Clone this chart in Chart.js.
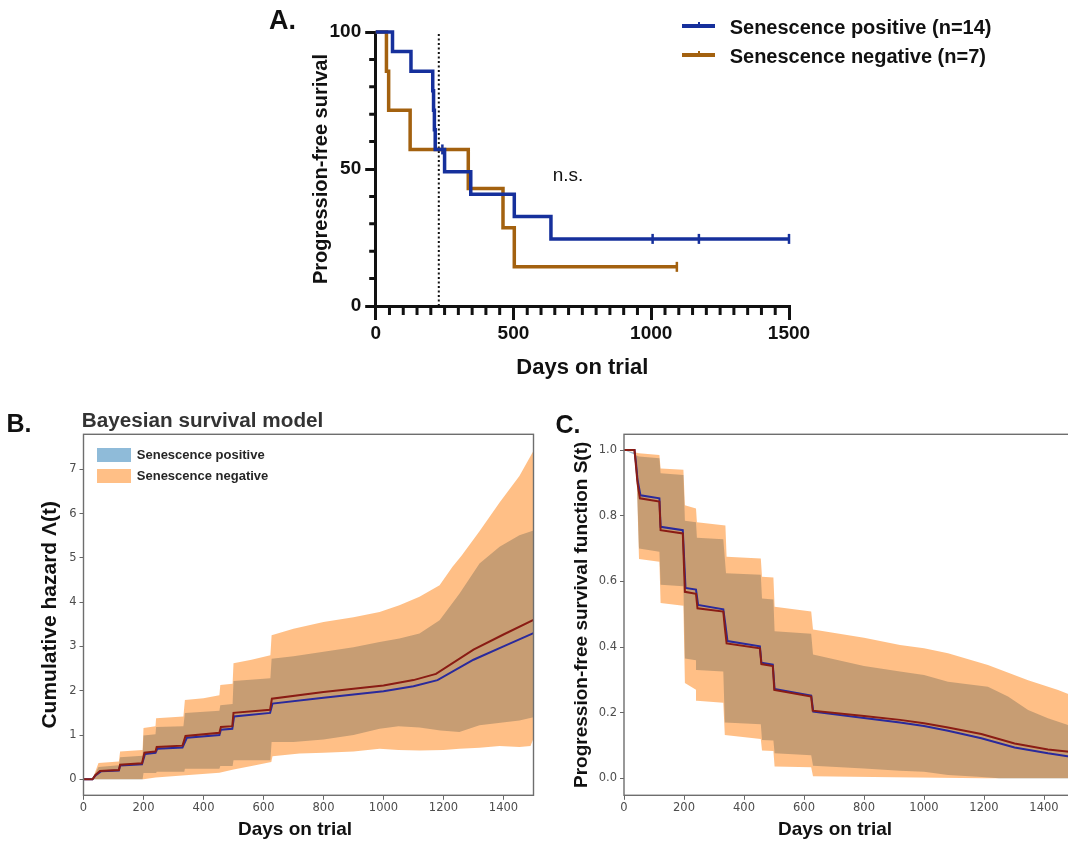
<!DOCTYPE html>
<html>
<head>
<meta charset="utf-8">
<script src="https://cdn.jsdelivr.net/npm/chart.js@4.4.1/dist/chart.umd.min.js"></script>
<style>
html, body { margin:0; padding:0; width:1068px; height:841px; overflow:hidden; background:#fff; }
canvas { position:absolute; }
.txt { position:absolute; font-family:"Liberation Sans", Arial, sans-serif; font-weight:bold; line-height:1; white-space:nowrap; color:#111; }
.key { position:absolute; }
</style>
</head>
<body>
<canvas id="chartA" width="600" height="400" style="left:250px;top:0px;width:600px;height:400px"></canvas>
<canvas id="chartB" width="545" height="441" style="left:0px;top:400px;width:545px;height:441px"></canvas>
<canvas id="chartC" width="520" height="441" style="left:560px;top:400px;width:520px;height:441px"></canvas>

<div class="txt" style="left:269px;top:7px;font-size:27px">A.</div>
<div class="txt" style="left:6.5px;top:410.5px;font-size:25px">B.</div>
<div class="txt" style="left:555.5px;top:411.8px;font-size:25px">C.</div>

<!-- legend A -->
<div class="key" style="left:681.7px;top:24.2px;width:33.3px;height:3.6px;background:#16309c"></div>
<div class="key" style="left:698px;top:21.5px;width:2px;height:4px;background:#16309c"></div>
<div class="txt" style="left:729.7px;top:16.7px;font-size:20px">Senescence positive (n=14)</div>
<div class="key" style="left:681.7px;top:53.2px;width:33.3px;height:3.6px;background:#a3610f"></div>
<div class="key" style="left:698px;top:50.5px;width:2px;height:4px;background:#a3610f"></div>
<div class="txt" style="left:729.7px;top:46.2px;font-size:20px">Senescence negative (n=7)</div>

<!-- panel B title and legend -->
<div class="txt" style="left:81.8px;top:410.2px;font-size:20.7px;color:#333">Bayesian survival model</div>
<div class="key" style="left:97.3px;top:447.7px;width:33.7px;height:14px;background:rgba(31,119,180,0.5)"></div>
<div class="txt" style="left:136.8px;top:447.5px;font-size:13px;color:#262626">Senescence positive</div>
<div class="key" style="left:97.3px;top:469.3px;width:33.7px;height:14px;background:rgba(255,127,14,0.5)"></div>
<div class="txt" style="left:136.8px;top:469.1px;font-size:13px;color:#262626">Senescence negative</div>

<!-- x titles of B and C -->
<div class="txt" style="left:295px;top:819px;font-size:19px;transform:translateX(-50%)">Days on trial</div>
<div class="txt" style="left:835px;top:819px;font-size:19px;transform:translateX(-50%)">Days on trial</div>

<script>
// ---------- Panel A: Kaplan-Meier, % progression-free ----------
const kmPositive = [[0,100],[61,92.86],[128,85.71],[207,78.57],[210,71.43],[213,64.29],[216,57.14],
  [250,48.98],[345,40.82],[503,32.65],[636,24.49],[1500,24.49]];
const kmNegative = [[0,100],[39,85.71],[47,71.43],[125,57.14],[336,42.86],[462,28.57],[503,14.29],[1093,14.29]];
const censorPositive = [[242,57.14],[1005,24.49],[1173,24.49],[1500,24.49]];
const censorNegative = [[1093,14.29]];
const landmarkDay = 229;
const nsLabel = {day: 698, value: 47.5, text: 'n.s.'};

// ---------- Panel B: cumulative hazard (median + 95% band) ----------
const hazardPosMedian = [[0,0],[30,0],[40,0.09],[58,0.18],[118,0.2],[122,0.31],[195,0.34],[205,0.57],[240,0.6],
  [246,0.69],[330,0.72],[345,0.94],[453,1.0],[458,1.12],[496,1.14],[502,1.42],[622,1.5],[630,1.71],[800,1.84],
  [1000,1.99],[1100,2.1],[1180,2.24],[1300,2.7],[1400,3.0],[1500,3.3]];
const hazardNegMedian = [[0,0],[30,0],[40,0.1],[55,0.19],[118,0.21],[122,0.33],[195,0.36],[203,0.6],[240,0.63],
  [244,0.73],[330,0.76],[340,0.98],[453,1.05],[458,1.18],[496,1.2],[500,1.5],[622,1.57],[628,1.82],[800,1.97],
  [1000,2.12],[1100,2.24],[1175,2.38],[1300,2.93],[1400,3.27],[1500,3.6]];
const hazardNegUpper = [[0,0],[30,0],[50,0.37],[118,0.4],[122,0.63],[197,0.66],[200,1.16],[240,1.2],[242,1.38],
  [333,1.42],[338,1.79],[400,1.83],[453,1.9],[456,2.13],[497,2.16],[500,2.62],[560,2.7],[623,2.8],[627,3.25],
  [700,3.4],[800,3.55],[900,3.66],[987,3.78],[1053,3.93],[1120,4.12],[1187,4.38],[1230,4.8],[1260,5.05],
  [1320,5.6],[1387,6.25],[1453,6.85],[1500,7.42]];
const hazardNegLower = [[0,0],[200,0],[240,0.04],[340,0.09],[453,0.15],[500,0.22],[560,0.3],[626,0.39],[630,0.52],
  [720,0.58],[800,0.6],[900,0.63],[987,0.69],[1050,0.66],[1120,0.65],[1200,0.66],[1253,0.69],[1320,0.71],
  [1387,0.75],[1453,0.73],[1490,0.75],[1500,0.92]];
const hazardPosUpper = [[0,0],[30,0],[50,0.28],[118,0.32],[122,0.5],[197,0.53],[200,0.99],[240,1.02],[242,1.18],
  [333,1.2],[338,1.5],[453,1.55],[456,1.67],[497,1.7],[500,2.22],[623,2.28],[627,2.72],[700,2.78],[800,2.88],
  [900,2.98],[987,3.1],[1053,3.18],[1120,3.29],[1187,3.59],[1253,4.19],[1320,4.87],[1387,5.25],[1453,5.51],[1500,5.62]];
const hazardPosLower = [[0,0],[197,0],[200,0.14],[242,0.14],[244,0.17],[336,0.17],[338,0.24],[453,0.24],[456,0.3],
  [497,0.3],[500,0.43],[623,0.43],[627,0.84],[700,0.84],[800,0.9],[900,1.0],[987,1.14],[1050,1.2],[1120,1.17],
  [1190,1.1],[1253,1.07],[1320,1.22],[1453,1.33],[1500,1.4]];

// ---------- Panel C: survival function S(t) (median + 95% band) ----------
const survPosMedian = [[0,1],[35,1],[40,0.96],[45,0.91],[55,0.862],[118,0.853],[122,0.766],[196,0.756],[205,0.58],
  [240,0.575],[247,0.528],[331,0.515],[338,0.468],[345,0.418],[453,0.402],[458,0.352],[496,0.346],[502,0.272],
  [624,0.252],[631,0.203],[800,0.184],[920,0.17],[1000,0.159],[1080,0.145],[1191,0.122],[1302,0.094],[1413,0.076],[1500,0.064]];
const survNegMedian = [[0,1],[35,1],[40,0.95],[45,0.9],[53,0.853],[118,0.843],[122,0.756],[196,0.746],[203,0.568],
  [240,0.562],[245,0.518],[331,0.508],[336,0.46],[342,0.411],[453,0.396],[458,0.348],[496,0.342],[501,0.269],
  [624,0.249],[629,0.206],[800,0.19],[920,0.178],[1000,0.168],[1080,0.155],[1191,0.135],[1302,0.106],[1413,0.088],[1500,0.079]];
const survNegUpper = [[0,1],[50,0.99],[118,0.985],[122,0.944],[198,0.94],[203,0.832],[240,0.822],[243,0.78],[338,0.77],
  [342,0.675],[456,0.67],[460,0.614],[498,0.612],[502,0.523],[624,0.508],[630,0.453],[800,0.428],[920,0.406],
  [1000,0.396],[1080,0.381],[1213,0.345],[1347,0.299],[1447,0.269],[1500,0.25]];
const survNegLower = [[0,1],[40,0.99],[50,0.668],[118,0.66],[122,0.534],[198,0.526],[203,0.29],[240,0.27],[243,0.236],
  [331,0.23],[336,0.132],[456,0.12],[460,0.085],[498,0.083],[502,0.036],[624,0.034],[630,0.006],[900,0.003],[1200,0],[1500,0]];
const survPosUpper = [[0,1],[50,0.98],[118,0.975],[122,0.929],[198,0.924],[203,0.785],[240,0.78],[243,0.733],[331,0.728],
  [340,0.625],[456,0.62],[460,0.548],[498,0.545],[502,0.448],[624,0.44],[630,0.377],[800,0.342],[920,0.325],
  [1000,0.315],[1080,0.294],[1213,0.279],[1280,0.249],[1347,0.208],[1413,0.183],[1480,0.162],[1500,0.157]];
const survPosLower = [[0,1],[40,0.99],[50,0.7],[118,0.69],[122,0.59],[198,0.585],[203,0.365],[240,0.36],[243,0.33],
  [331,0.325],[336,0.17],[456,0.165],[460,0.117],[498,0.115],[502,0.076],[624,0.07],[630,0.038],[800,0.03],
  [920,0.023],[1000,0.02],[1080,0.01],[1180,0.005],[1250,0],[1500,0]];

const SANS = '"Liberation Sans", Arial, sans-serif';
const MPL = '"DejaVu Sans", sans-serif';
const BLUE_A = '#16309c', ORANGE_A = '#a3610f';
const pts = arr => arr.map(([x, y]) => ({x, y}));
const plainNum = v => String(v);

// minor ticks of panel A (every 50 days, every 10 %)
const minorDays = [], minorPct = [];
for (let d = 50; d < 1500; d += 50) if (d % 500) minorDays.push(d);
for (let p = 10; p < 100; p += 10) if (p % 50) minorPct.push(p);

const minorTicks = {
  id: 'minorTicks',
  afterDraw(chart) {
    const {ctx} = chart, x = chart.scales.x, y = chart.scales.y;
    ctx.save();
    ctx.strokeStyle = '#111';
    ctx.lineWidth = 3;
    ctx.beginPath();
    minorDays.forEach(v => { const p = x.getPixelForValue(v); ctx.moveTo(p, x.top); ctx.lineTo(p, x.top + 9); });
    minorPct.forEach(v => { const p = y.getPixelForValue(v); ctx.moveTo(y.right, p); ctx.lineTo(y.right - 6.5, p); });
    ctx.stroke();
    ctx.restore();
  }
};

const nsText = {
  id: 'nsText',
  afterDatasetsDraw(chart) {
    const {ctx} = chart, x = chart.scales.x, y = chart.scales.y;
    ctx.save();
    ctx.font = '19px ' + SANS;
    ctx.fillStyle = '#111';
    ctx.textAlign = 'center';
    ctx.textBaseline = 'middle';
    ctx.fillText(nsLabel.text, x.getPixelForValue(nsLabel.day), y.getPixelForValue(nsLabel.value));
    ctx.restore();
  }
};

const frameBox = {
  id: 'frameBox',
  afterDatasetsDraw(chart) {
    const {ctx, chartArea: a} = chart;
    ctx.save();
    ctx.strokeStyle = '#6e6e6e';
    ctx.lineWidth = 1.4;
    ctx.strokeRect(a.left, a.top, a.right - a.left, a.bottom - a.top);
    ctx.restore();
  }
};

// ---------- chart A ----------
new Chart(document.getElementById('chartA'), {
  type: 'line',
  data: {
    datasets: [
      {label: 'Senescence positive (n=14)', data: pts(kmPositive), stepped: true, borderColor: BLUE_A,
        borderWidth: 3.5, pointRadius: 0, fill: false, clip: false},
      {label: 'Senescence negative (n=7)', data: pts(kmNegative), stepped: true, borderColor: ORANGE_A,
        borderWidth: 3.5, pointRadius: 0, fill: false, clip: false},
      {data: pts(censorPositive), showLine: false, pointStyle: 'line', rotation: 90, pointRadius: 5,
        pointBorderWidth: 2.5, pointBorderColor: BLUE_A, borderColor: BLUE_A, clip: false},
      {data: pts(censorNegative), showLine: false, pointStyle: 'line', rotation: 90, pointRadius: 5,
        pointBorderWidth: 2.5, pointBorderColor: ORANGE_A, borderColor: ORANGE_A, clip: false},
      {data: [{x: landmarkDay, y: 0}, {x: landmarkDay, y: 100}], borderColor: '#111', borderWidth: 2,
        borderDash: [2, 2.5], pointRadius: 0, fill: false}
    ]
  },
  options: {
    responsive: false, animation: false, events: [], devicePixelRatio: 1,
    layout: {padding: {left: 0, top: 32, right: 61, bottom: 0}, autoPadding: false},
    plugins: {legend: {display: false}, tooltip: {enabled: false}},
    scales: {
      x: {
        type: 'linear', min: 0, max: 1500,
        afterFit: s => { s.height = 94; },
        ticks: {stepSize: 500, color: '#111', font: {family: SANS, size: 19, weight: 'bold'}, padding: 2,
          maxRotation: 0, autoSkip: false, callback: plainNum},
        grid: {display: true, drawOnChartArea: false, drawTicks: true, tickLength: 14, color: '#111', lineWidth: 3},
        border: {display: true, color: '#111', width: 3},
        title: {display: true, text: 'Days on trial', color: '#111', font: {family: SANS, size: 22, weight: 'bold'},
          padding: {top: 0, bottom: 18.5}}
      },
      y: {
        type: 'linear', min: 0, max: 100,
        afterFit: s => { s.width = 125.7; },
        ticks: {stepSize: 50, color: '#111', font: {family: SANS, size: 19, weight: 'bold'}, padding: 4,
          callback: plainNum},
        grid: {display: true, drawOnChartArea: false, drawTicks: true, tickLength: 10.5, color: '#111', lineWidth: 3},
        border: {display: true, color: '#111', width: 3},
        title: {display: true, text: 'Progression-free surival', color: '#111',
          font: {family: SANS, size: 20, weight: 'bold'}, padding: {top: 59.6, bottom: 0}}
      }
    }
  },
  plugins: [minorTicks, nsText]
});

// ---------- charts B and C ----------
function bandSets(upper, lower, color, order) {
  return [
    {data: pts(upper), fill: '+1', backgroundColor: color, borderColor: 'rgba(0,0,0,0)', borderWidth: 0,
      pointRadius: 0, order: order},
    {data: pts(lower), fill: false, borderColor: 'rgba(0,0,0,0)', borderWidth: 0, pointRadius: 0, order: order}
  ];
}

function bayesChart(id, s) {
  new Chart(document.getElementById(id), {
    type: 'line',
    data: {
      datasets: [
        {label: 'Senescence negative', data: pts(s.negMedian), borderColor: '#8a1c14', borderWidth: 2,
          pointRadius: 0, fill: false, order: 0},
        {label: 'Senescence positive', data: pts(s.posMedian), borderColor: '#2a2a9c', borderWidth: 2,
          pointRadius: 0, fill: false, order: 1},
        ...bandSets(s.negUpper, s.negLower, 'rgba(255,127,14,0.5)', 2),
        ...bandSets(s.posUpper, s.posLower, 'rgba(31,119,180,0.5)', 3)
      ]
    },
    options: {
      responsive: false, animation: false, events: [], devicePixelRatio: 1,
      layout: {padding: {left: 0, top: 34.3, right: s.padRight, bottom: 0}, autoPadding: false},
      plugins: {legend: {display: false}, tooltip: {enabled: false}},
      scales: {
        x: {
          type: 'linear', min: 0, max: 1500,
          afterFit: sc => { sc.height = 45.7; },
          ticks: {stepSize: 200, includeBounds: false, color: '#4d4d4d', font: {family: MPL, size: 11.5},
            padding: 1, maxRotation: 0, autoSkip: false, callback: plainNum},
          grid: {display: true, drawOnChartArea: false, drawTicks: true, tickLength: 4.5, color: '#666', lineWidth: 1},
          border: {display: false}
        },
        y: {
          type: 'linear', min: s.yMin, max: s.yMax,
          afterFit: sc => { sc.width = s.yWidth; },
          ticks: {stepSize: s.yStep, includeBounds: false, color: '#4d4d4d', font: {family: MPL, size: 11.5},
            padding: 3, callback: s.yFmt},
          grid: {display: true, drawOnChartArea: false, drawTicks: true, tickLength: 4, color: '#666', lineWidth: 1},
          border: {display: false},
          title: {display: true, text: s.yTitle, color: '#111', font: {family: SANS, size: s.yTitleSize, weight: 'bold'},
            padding: {top: s.yTitlePad, bottom: 0}}
        }
      }
    },
    plugins: [frameBox]
  });
}

bayesChart('chartB', {
  negMedian: hazardNegMedian, posMedian: hazardPosMedian,
  negUpper: hazardNegUpper, negLower: hazardNegLower, posUpper: hazardPosUpper, posLower: hazardPosLower,
  yMin: -0.361, yMax: 7.79, yStep: 1, yFmt: v => String(v),
  yTitle: 'Cumulative hazard \u039B(t)', yTitleSize: 21, yTitlePad: 37.4, yWidth: 83.5, padRight: 11.5
});

bayesChart('chartC', {
  negMedian: survNegMedian, posMedian: survPosMedian,
  negUpper: survNegUpper, negLower: survNegLower, posUpper: survPosUpper, posLower: survPosLower,
  yMin: -0.0518, yMax: 1.048, yStep: 0.2, yFmt: v => v.toFixed(1),
  yTitle: 'Progression-free survival function S(t)', yTitleSize: 19, yTitlePad: 10.3, yWidth: 64, padRight: 6
});
</script>
</body>
</html>
